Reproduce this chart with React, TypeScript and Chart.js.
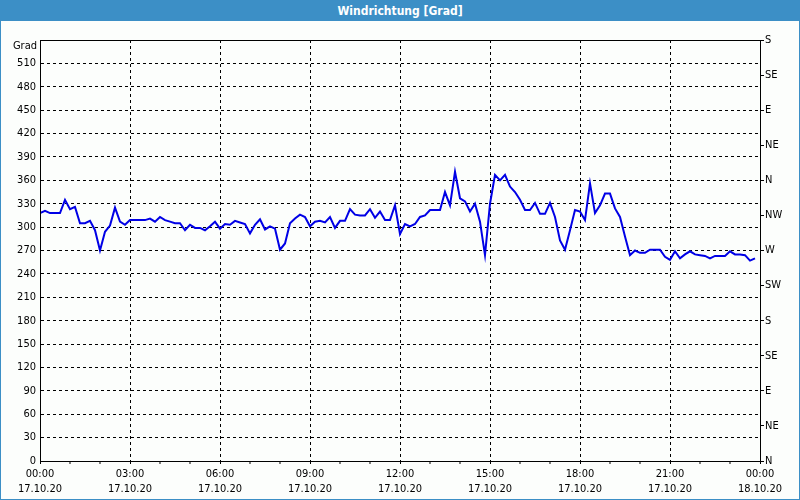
import React, { useEffect, useRef } from "react";
import { Chart, registerables } from "chart.js";

Chart.register(...registerables);

const TITLE = "Windrichtung [Grad]";
const Y_UNIT = "Grad";
const DATE_START = "17.10.20";
const DATE_END = "18.10.20";
const X_TICK_TIMES = ["00:00", "03:00", "06:00", "09:00", "12:00", "15:00", "18:00", "21:00", "00:00"];
const COMPASS_LABELS = ["N", "NE", "E", "SE", "S", "SW", "W", "NW", "N", "NE", "E", "SE", "S"];
const SAMPLE_MINUTES = 10;

// Wind direction in degrees, one value every 10 minutes from 00:00 to 23:50
const windDirection = [
  318, 321, 318, 318, 318, 335, 323, 326, 305, 305, 308, 296, 270, 294, 302, 325, 307, 303,
  309, 309, 309, 309, 311, 307, 313, 309, 307, 305, 305, 296, 303, 299, 299, 296, 301, 307,
  298, 304, 303, 308, 306, 304, 292, 303, 310, 297, 301, 298, 271, 279, 305, 311, 316, 313,
  301, 307, 308, 306, 313, 299, 308, 308, 323, 316, 315, 315, 323, 312, 320, 309, 309, 328,
  291, 304, 301, 304, 313, 315, 322, 322, 322, 345, 328, 371, 337, 333, 320, 330, 307, 264,
  330, 367, 360, 367, 352, 345, 335, 322, 322, 331, 317, 317, 331, 313, 283, 271, 296, 322,
  320, 309, 356, 318, 328, 343, 343, 324, 313, 288, 264, 270, 267, 267, 271, 271, 271, 262,
  258, 269, 260, 265, 269, 265, 264, 263, 260, 263, 263, 263, 269, 265, 265, 264, 257, 260,
];

const FONT = '"DejaVu Sans Condensed", "Liberation Sans", sans-serif';

export default function App() {
  const ref = useRef<HTMLCanvasElement>(null);

  useEffect(() => {
    if (!ref.current) return;
    const points = windDirection.map((v, i) => ({ x: i * SAMPLE_MINUTES, y: v }));

    const framePlugin = {
      id: "frame",
      afterDraw(chart: any) {
        const { ctx, chartArea } = chart;
        ctx.save();
        ctx.strokeStyle = "#000";
        ctx.lineWidth = 1;
        ctx.strokeRect(
          Math.round(chartArea.left) + 0.5,
          Math.round(chartArea.top) + 0.5,
          Math.round(chartArea.right - chartArea.left),
          Math.round(chartArea.bottom - chartArea.top)
        );
        ctx.fillStyle = "#000";
        ctx.font = "11px " + FONT;
        ctx.textAlign = "right";
        ctx.textBaseline = "middle";
        ctx.fillText(Y_UNIT, chartArea.left - 3, chartArea.top + 6);
        ctx.restore();
      },
    };

    const chart = new Chart(ref.current, {
      type: "line",
      data: {
        datasets: [
          {
            data: points,
            borderColor: "#0000e6",
            borderWidth: 2,
            pointRadius: 0,
            tension: 0,
            fill: false,
          },
        ],
      },
      options: {
        animation: false,
        responsive: false,
        maintainAspectRatio: false,
        layout: { padding: { top: 40, left: 0, right: 0, bottom: 0 } },
        plugins: { legend: { display: false }, tooltip: { enabled: false }, title: { display: false } },
        scales: {
          x: {
            type: "linear",
            min: 0,
            max: 1440,
            afterFit: (s: any) => {
              s.height = 39;
            },
            afterBuildTicks: (s: any) => {
              const t = [];
              for (let m = 0; m <= 1440; m += 60) t.push({ value: m });
              s.ticks = t;
            },
            ticks: {
              autoSkip: false,
              maxRotation: 0,
              padding: 2,
              color: "#000",
              font: { family: FONT, size: 11, lineHeight: 1.4 },
              callback: (v: any) => {
                const m = Number(v);
                if (m % 180 !== 0) return "";
                const idx = m / 180;
                return [X_TICK_TIMES[idx], m === 1440 ? DATE_END : DATE_START];
              },
            },
            grid: {
              color: (c: any) => (c.tick && c.tick.value % 180 === 0 ? "#000" : "rgba(0,0,0,0)"),
              lineWidth: (c: any) => (c.tick && c.tick.value % 180 === 0 ? 1 : 0),
              tickColor: "#000",
              tickWidth: 1,
              tickLength: 3,
              drawTicks: true,
            },
            border: { display: true, color: "#000", width: 1, dash: [3, 3] },
          },
          y: {
            type: "linear",
            position: "left",
            min: 0,
            max: 540,
            afterFit: (s: any) => {
              s.width = 40;
            },
            ticks: {
              stepSize: 30,
              padding: 4,
              color: "#000",
              font: { family: FONT, size: 11 },
              callback: (v: any) => (Number(v) === 540 ? "" : String(v)),
            },
            grid: { color: "#000", lineWidth: 1, drawTicks: false },
            border: { display: true, color: "#000", width: 1, dash: [3, 3] },
          },
          y2: {
            type: "linear",
            position: "right",
            min: 0,
            max: 540,
            afterFit: (s: any) => {
              s.width = 40;
            },
            ticks: {
              stepSize: 45,
              padding: 1,
              color: "#000",
              font: { family: FONT, size: 11 },
              callback: (v: any) => COMPASS_LABELS[Math.round(Number(v) / 45)] ?? "",
            },
            grid: { drawOnChartArea: false, color: "#000", tickColor: "#000", tickLength: 4, tickWidth: 1 },
            border: { display: true, color: "#000", width: 1 },
          },
        },
      },
      plugins: [framePlugin],
    });
    return () => chart.destroy();
  }, []);

  return (
    <div
      style={{
        position: "fixed",
        left: 0,
        top: 0,
        width: 800,
        height: 500,
        boxSizing: "border-box",
        border: "1px solid #3c8fc6",
        background: "#fcfefc",
        overflow: "hidden",
      }}
    >
      <div
        style={{
          position: "absolute",
          left: 0,
          top: 0,
          width: 798,
          height: 20,
          background: "#3c8fc6",
          color: "#fff",
          fontFamily: FONT,
          fontWeight: "bold",
          fontSize: 12,
          lineHeight: "21px",
          textAlign: "center",
        }}
      >
        {TITLE}
      </div>
      <canvas
        ref={ref}
        width={800}
        height={500}
        style={{ position: "absolute", left: -1, top: -1, width: 800, height: 500 }}
      />
    </div>
  );
}
